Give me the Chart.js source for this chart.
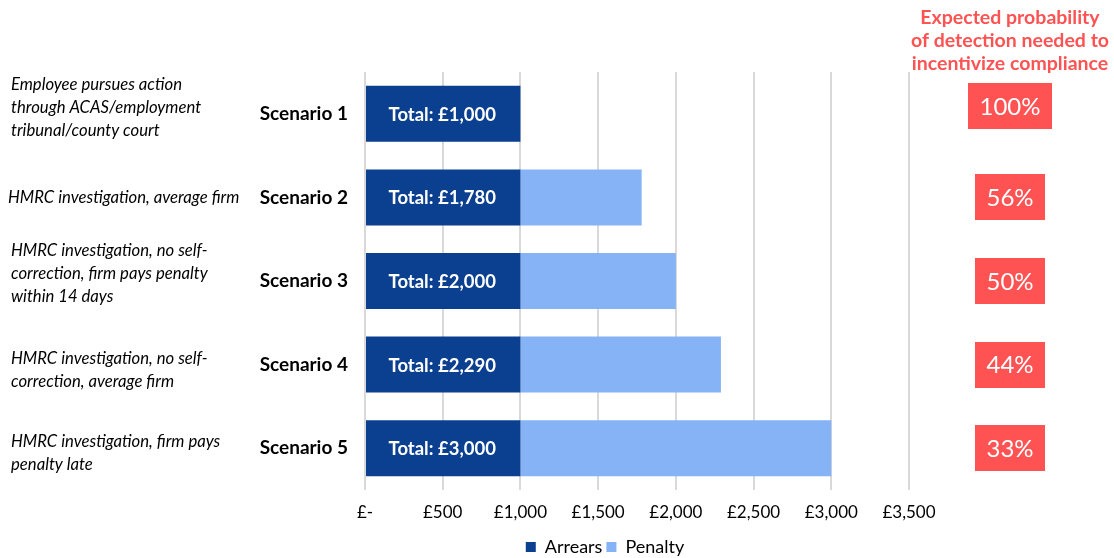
<!DOCTYPE html>
<html>
<head>
<meta charset="utf-8">
<script src="https://cdn.jsdelivr.net/npm/chart.js@4.4.1/dist/chart.umd.min.js"></script>
<style>
  html, body { margin: 0; padding: 0; background: #fff; }
  #wrap { width: 1114px; height: 558px; position: relative; }
</style>
</head>
<body>
<div id="wrap"><canvas id="penaltyChart" width="1114" height="558"></canvas></div>
<script>
const scenarios = ['Scenario 1', 'Scenario 2', 'Scenario 3', 'Scenario 4', 'Scenario 5'];
const descriptions = [
    ['Employee pursues action', 'through ACAS/employment', 'tribunal/county court'],
    ['HMRC investigation, average firm'],
    ['HMRC investigation, no self-', 'correction, firm pays penalty', 'within 14 days'],
    ['HMRC investigation, no self-', 'correction, average firm'],
    ['HMRC investigation, firm pays', 'penalty late']
];
const arrears = [1000, 1000, 1000, 1000, 1000];
const penalty = [0, 780, 1000, 1290, 2000];
const totals = [1000, 1780, 2000, 2290, 3000];
const detectionProb = [100, 56, 50, 44, 33];
const headerLines = ['Expected probability', 'of detection needed to', 'incentivize compliance'];

const FONT = 'Lato, "DejaVu Sans", sans-serif';
const DARK_BLUE = '#0B3F8F';
const LIGHT_BLUE = '#85B3F5';
const RED = '#FF5252';

const money = v => v === 0 ? '£-' : '£' + v.toLocaleString('en-GB');

// vertical nudges for the description blocks and the probability boxes
const descShift = [-6, 0, -7, 6, 5];
const boxShift = [-8, 0, 0, 0, 0];

// descriptions, total labels and the probability boxes
const sideText = {
    id: 'sideText',
    afterLayout(chart) {
        // centre the legend under the bars rather than the whole left block
        const lg = chart.legend;
        const d = 605 - (lg.left + lg.right) / 2;
        lg.left += d;
        lg.right += d;
        lg.top += 8;
        lg.bottom += 8;
    },
    afterDatasetsDraw(chart) {
        const ctx = chart.ctx;
        const y = chart.scales.y;
        const meta = chart.getDatasetMeta(0);

        ctx.save();
        ctx.textBaseline = 'middle';

        // total label in the middle of the arrears bar
        ctx.fillStyle = '#fff';
        ctx.textAlign = 'center';
        ctx.font = 'bold 18.5px ' + FONT;
        meta.data.forEach((bar, i) => {
            ctx.fillText('Total: ' + money(totals[i]), (bar.x + bar.base) / 2 - 1, bar.y + 1);
        });

        // italic descriptions on the far left
        ctx.fillStyle = '#000';
        ctx.textAlign = 'left';
        ctx.font = 'italic 16.7px ' + FONT;
        descriptions.forEach((lines, i) => {
            const cy = y.getPixelForValue(i) + descShift[i];
            const lh = 23;
            const top = cy - (lines.length - 1) * lh / 2;
            lines.forEach((line, j) => ctx.fillText(line, i === 1 ? 8 : 11, top + j * lh));
        });

        // header above the probability column
        const colX = 1010;
        ctx.fillStyle = RED;
        ctx.textAlign = 'center';
        ctx.font = 'bold 19.5px ' + FONT;
        headerLines.forEach((line, j) => ctx.fillText(line, colX, 18 + j * 23));

        // red boxes with the probability
        ctx.font = '24px ' + FONT;
        detectionProb.forEach((p, i) => {
            const cy = y.getPixelForValue(i) + boxShift[i];
            const txt = p + '%';
            const w = Math.round(ctx.measureText(txt).width + 23);
            ctx.fillStyle = RED;
            ctx.fillRect(Math.round(colX - w / 2), Math.round(cy - 23), w, 46);
            ctx.fillStyle = '#fff';
            ctx.fillText(txt, colX, cy + 1);
        });
        ctx.restore();
    }
};

const ctx = document.getElementById('penaltyChart').getContext('2d');

new Chart(ctx, {
    type: 'bar',
    data: {
        labels: scenarios,
        datasets: [
            { label: 'Arrears', data: arrears, backgroundColor: DARK_BLUE, barPercentage: 0.67, categoryPercentage: 1 },
            { label: 'Penalty', data: penalty, backgroundColor: LIGHT_BLUE, barPercentage: 0.67, categoryPercentage: 1 }
        ]
    },
    options: {
        indexAxis: 'y',
        responsive: false,
        animation: false,
        devicePixelRatio: 1,
        layout: { padding: { top: 72, right: 205, bottom: 0, left: 0 } },
        plugins: {
            legend: {
                display: true,
                position: 'bottom',
                labels: {
                    boxWidth: 10,
                    boxHeight: 10,
                    padding: 4,
                    color: '#000',
                    font: { family: FONT, size: 18 }
                }
            },
            tooltip: { enabled: false }
        },
        scales: {
            x: {
                stacked: true,
                min: 0,
                max: 3500,
                afterFit: scale => { scale.height = 36; },
                ticks: {
                    stepSize: 500,
                    padding: 12,
                    color: '#000',
                    font: { family: FONT, size: 17 },
                    callback: v => money(v)
                },
                grid: { color: '#D9D9D9', lineWidth: 2, drawTicks: false },
                border: { display: false }
            },
            y: {
                stacked: true,
                afterFit: scale => { scale.width = 365; },
                ticks: {
                    padding: 17,
                    color: '#000',
                    font: { family: FONT, size: 19, weight: 'bold' }
                },
                grid: { display: false, drawTicks: false },
                border: { display: false }
            }
        }
    },
    plugins: [sideText]
});
</script>
</body>
</html>
